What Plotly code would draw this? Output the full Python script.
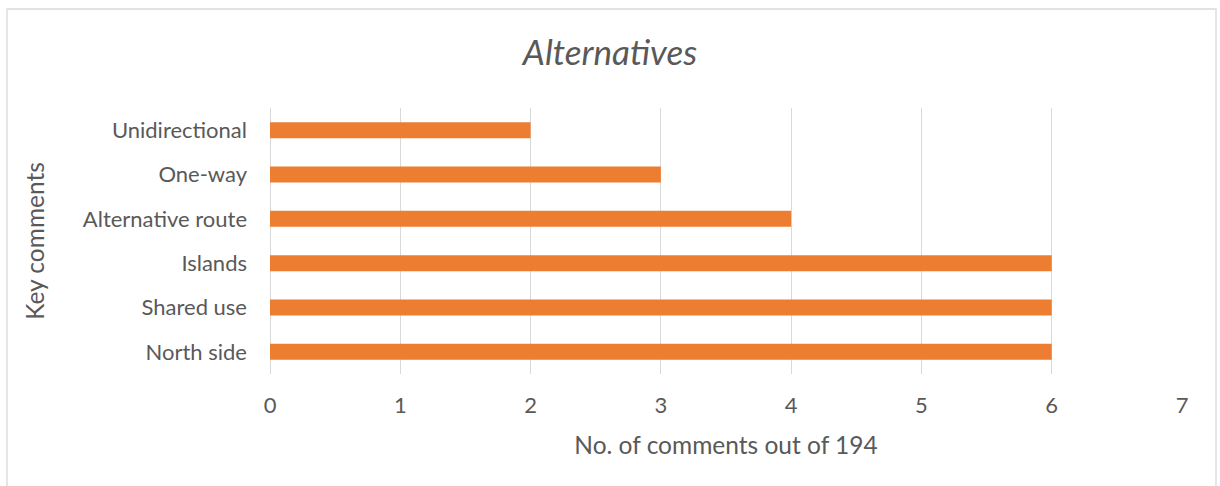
import plotly.graph_objects as go

categories = ["North side", "Shared use", "Islands", "Alternative route", "One-way", "Unidirectional"]
values = [6, 6, 6, 4, 3, 2]
x_ticks = [0, 1, 2, 3, 4, 5, 6, 7]

W, H = 1220, 486
L, R, T, B = 270, 38, 108, 112
pw, ph = W - L - R, H - T - B

fig = go.Figure(go.Bar(
    y=categories, x=values, orientation="h",
    marker=dict(color="#ED7D31", line=dict(width=0)),
    width=0.36,
))

font_family = "Lato, Open Sans, sans-serif"
grey = "#595959"

fig.update_layout(
    width=W, height=H,
    margin=dict(l=L, r=R, t=T, b=B),
    paper_bgcolor="white", plot_bgcolor="white",
    showlegend=False,
    font=dict(family=font_family, color=grey),
    xaxis=dict(
        range=[0, 7], tickvals=x_ticks, ticktext=[str(t) for t in x_ticks],
        showgrid=True, gridcolor="#D9D9D9", gridwidth=1.3,
        zeroline=True, zerolinecolor="#D9D9D9", zerolinewidth=1.3,
        showline=False, ticks="", tickfont=dict(size=22, color=grey),
        ticklabelstandoff=16,
        title=dict(text="No. of comments out of 194", font=dict(size=24.5, color=grey), standoff=19),
    ),
    yaxis=dict(
        categoryorder="array", categoryarray=categories,
        range=[-0.5, 5.5],
        showgrid=False, showline=False, ticks="", zeroline=False,
        tickfont=dict(size=22, color=grey), ticklabelstandoff=22,
        title=dict(text="Key comments", font=dict(size=24.5, color=grey), standoff=31),
    ),
    title=dict(text="<i>Alternatives</i>", font=dict(size=35, color=grey),
               x=0.5, xanchor="center", y=1 - 53 / H, yanchor="middle"),
    shapes=[dict(
        type="rect", xref="paper", yref="paper",
        x0=(7 - L) / pw, x1=(1216 - L) / pw,
        y0=-0.6, y1=(H - B - 9) / ph,
        line=dict(color="#D9D9D9", width=1.3), fillcolor="rgba(0,0,0,0)", layer="below",
    )],
)

fig.write_html("out.html")
